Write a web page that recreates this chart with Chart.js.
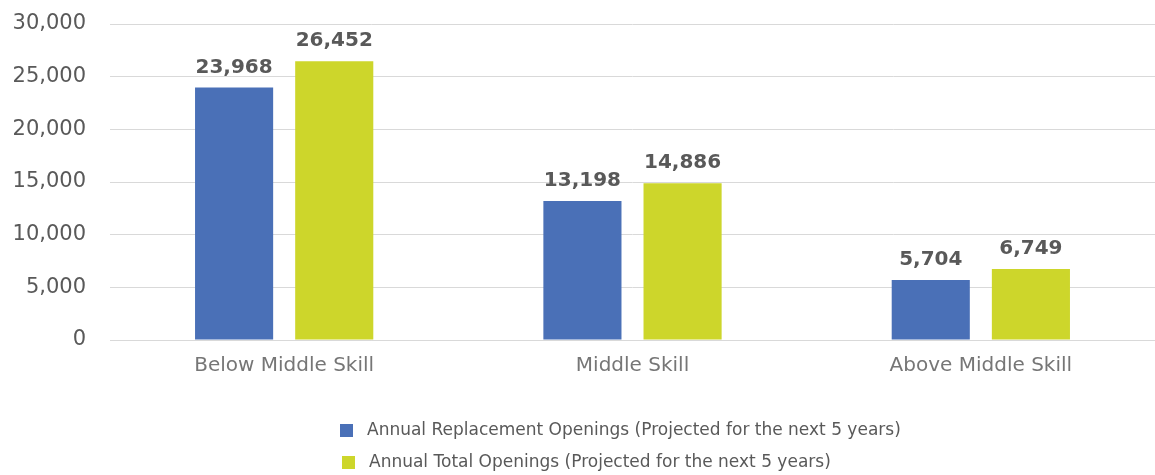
<!DOCTYPE html>
<html>
<head>
<meta charset="utf-8">
<script src="https://cdn.jsdelivr.net/npm/chart.js@4"></script>
<style>
  html, body { margin: 0; padding: 0; background: #fff; }
  #wrap { width: 1155px; height: 475px; }
</style>
</head>
<body>
<div id="wrap"><canvas id="chart"></canvas></div>
<script>
// chart data
var categories = ["Below Middle Skill", "Middle Skill", "Above Middle Skill"];
var replacementOpenings = [23968, 13198, 5704];
var totalOpenings = [26452, 14886, 6749];
var seriesNames = [
    "Annual Replacement Openings (Projected for the next 5 years)",
    "Annual Total Openings (Projected for the next 5 years)"
];
var yTicks = [0, 5000, 10000, 15000, 20000, 25000, 30000];

var FONT = "'DejaVu Sans', sans-serif";

function fmt(v) {
    return v.toLocaleString("en-US");
}

// value labels above each bar
var barLabels = {
    id: "barLabels",
    afterDatasetsDraw: function (chart) {
        var ctx = chart.ctx;
        ctx.save();
        ctx.font = "bold 20px " + FONT;
        ctx.fillStyle = "#595959";
        ctx.textAlign = "center";
        ctx.textBaseline = "alphabetic";
        chart.data.datasets.forEach(function (ds, i) {
            chart.getDatasetMeta(i).data.forEach(function (bar, j) {
                ctx.fillText(fmt(ds.data[j]), bar.x, bar.y - 15);
            });
        });
        ctx.restore();
    }
};

// stacked legend under the chart
var stackedLegend = {
    id: "stackedLegend",
    afterDraw: function (chart) {
        var ctx = chart.ctx;
        ctx.save();
        ctx.font = "17px " + FONT;
        ctx.textBaseline = "middle";
        ctx.textAlign = "left";
        var rows = [430, 462];
        chart.data.datasets.forEach(function (ds, i) {
            var x = 340 + i * 2;
            ctx.fillStyle = ds.backgroundColor;
            ctx.fillRect(x, rows[i] - 6, 13, 13);
            ctx.fillStyle = "#595959";
            ctx.fillText(ds.label, x + 27, rows[i] + 1);
        });
        ctx.restore();
    }
};

var chart = new Chart(document.getElementById("chart"), {
    type: "bar",
    data: {
        labels: categories,
        datasets: [{
            label: seriesNames[0],
            data: replacementOpenings,
            backgroundColor: "#4A70B7"
        }, {
            label: seriesNames[1],
            data: totalOpenings,
            backgroundColor: "#CDD62B"
        }]
    },
    options: {
        responsive: true,
        maintainAspectRatio: false,
        animation: false,
        categoryPercentage: 0.575,
        barPercentage: 0.78,
        layout: { padding: { top: 24, bottom: 91, left: 0, right: 0 } },
        plugins: {
            legend: { display: false },
            tooltip: { enabled: false }
        },
        scales: {
            x: {
                grid: { display: false },
                border: { color: "#D9D9D9", width: 1 },
                ticks: {
                    color: "#767676",
                    font: { family: FONT, size: 20 },
                    padding: 6
                }
            },
            y: {
                min: 0,
                max: 30000,
                afterBuildTicks: function (axis) {
                    axis.ticks = yTicks.map(function (v) { return { value: v }; });
                },
                afterFit: function (axis) {
                    axis.width = 110;
                    axis.paddingTop = 0;   // tick padding would otherwise push the top down
                    axis.paddingBottom = 0;
                },
                grid: { color: "#D9D9D9", drawTicks: false },
                border: { display: false },
                ticks: {
                    color: "#595959",
                    font: { family: FONT, size: 21 },
                    padding: 24,
                    callback: function (v) { return fmt(v); }
                }
            }
        }
    },
    plugins: [barLabels, stackedLegend]
});
</script>
</body>
</html>
